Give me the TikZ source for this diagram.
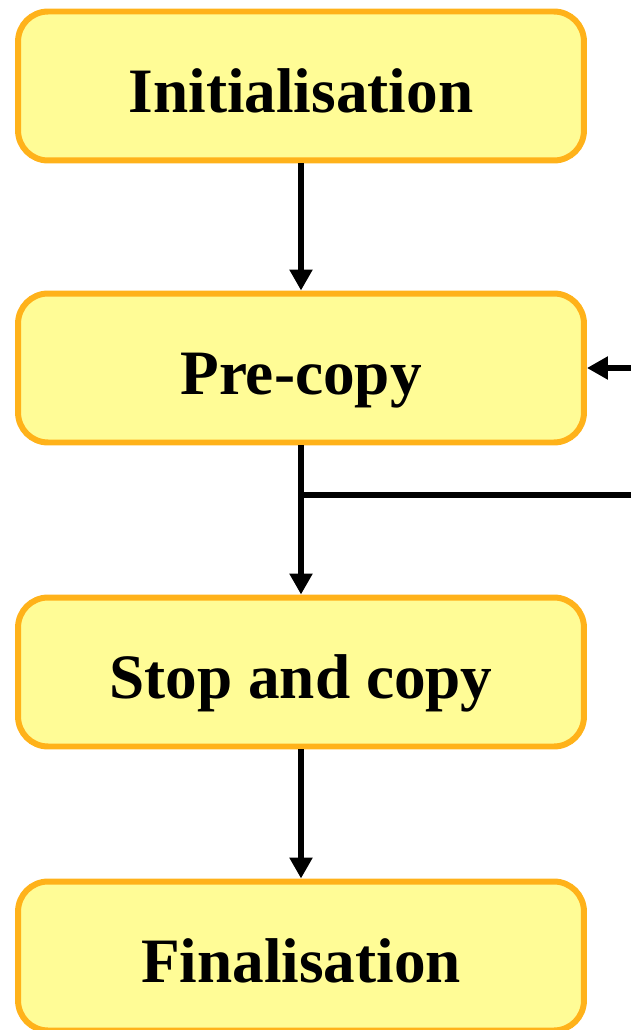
\documentclass[tikz,border=0pt]{standalone}
\usepackage{fontspec}
\setmainfont{Liberation Serif}
\usetikzlibrary{positioning, arrows.meta}
\definecolor{stagefill}{RGB}{255,252,150}
\definecolor{stageborder}{RGB}{255,178,26}
\tikzset{
  stagebox/.style = {rectangle, draw=stageborder, fill=stagefill, rounded corners=0.6cm,
                     line width=3.4pt, minimum width=11.32cm, minimum height=2.98cm,
                     text height=32pt, text depth=2pt,
                     align=center, font=\fontsize{36}{40}\selectfont\bfseries},
  stagearrow/.style = {-{Triangle[length=0.42cm,width=0.44cm]}, line width=3.4pt, draw=black}
}

\begin{document}
\begin{tikzpicture}[x=0.02cm, y=0.02cm]
\useasboundingbox (0,0) rectangle (630,-1030);
\node[stagebox] (init)  at (301,-86)  {Initialisation};
\node[stagebox] (pre)   at (301,-368) {Pre-copy};
\node[stagebox] (stop)  at (301,-672) {Stop and copy};
\node[stagebox] (final) at (301,-956) {Finalisation};

% loop back into pre-copy from the right edge
\coordinate (branch) at (301,-495);
\coordinate (loopout) at (640,-495);
\coordinate (loopin) at (640,-368);

\draw[stagearrow] (init) -- (pre);
\draw[stagearrow] (pre) -- (stop);
\draw[line width=3.4pt] (branch) -- (loopout);
\draw[stagearrow] (loopin) -- (pre.east);
\draw[stagearrow] (stop) -- (final);
\end{tikzpicture}
\end{document}
